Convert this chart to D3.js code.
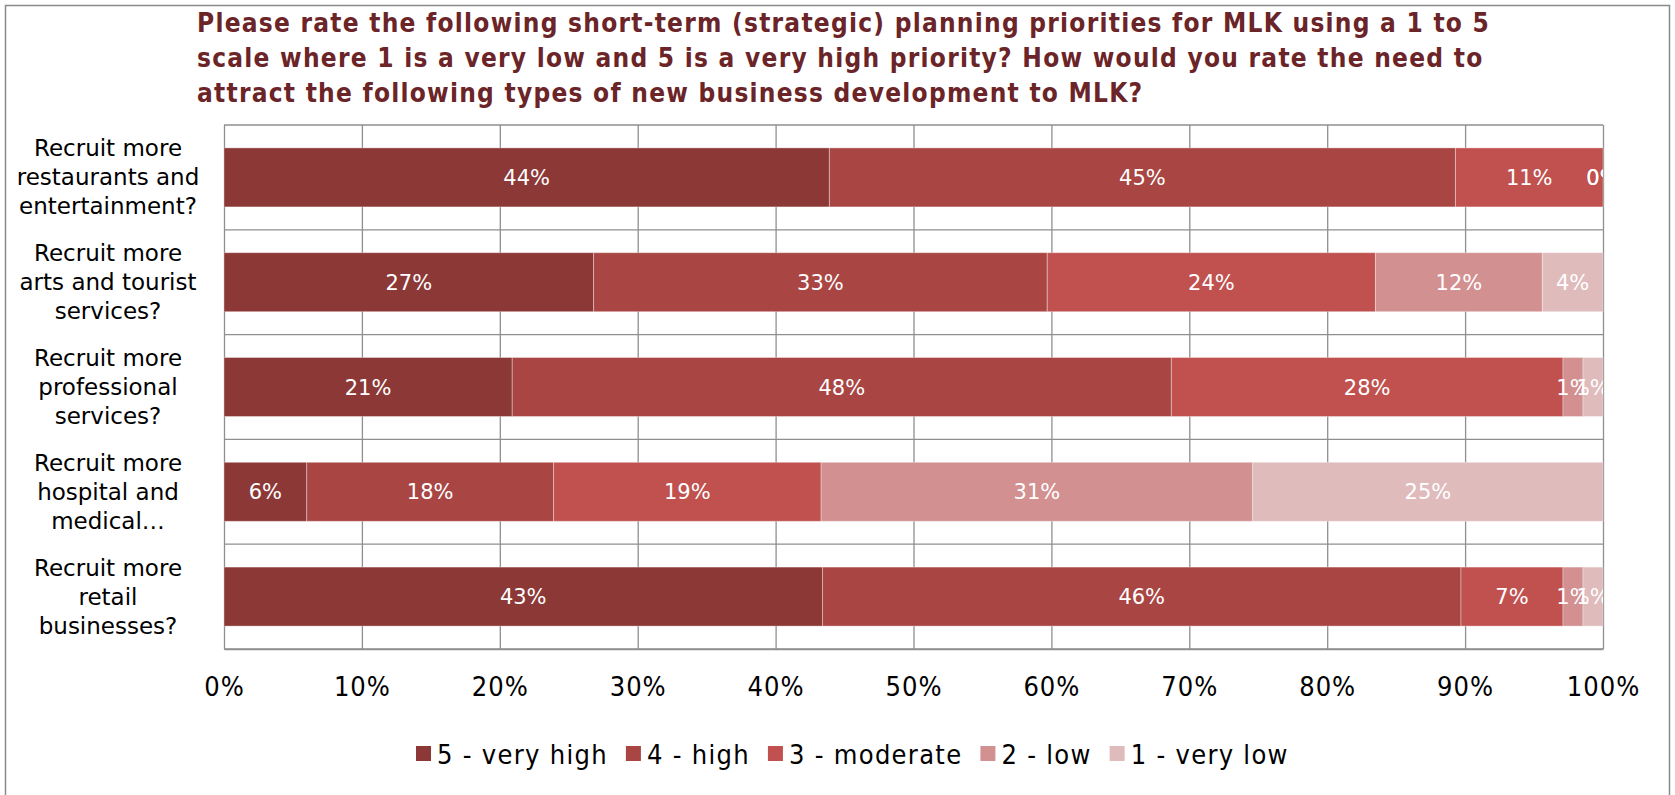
<!DOCTYPE html>
<html>
<head>
<meta charset="utf-8">
<script src="https://cdn.jsdelivr.net/npm/d3@7"></script>
<style>
  html, body { margin: 0; padding: 0; background: #fff; }
  svg { display: block; }
</style>
</head>
<body>
<svg id="chart" width="1675" height="795"></svg>
<script>
const titleLines = [
  "Please rate the following short-term (strategic) planning priorities for MLK using a 1 to 5",
  "scale where 1 is a very low and 5 is a very high priority? How would you rate the need to",
  "attract the following types of new business development to MLK?"
];
const categories = [
  ["Recruit more", "restaurants and", "entertainment?"],
  ["Recruit more", "arts and tourist", "services?"],
  ["Recruit more", "professional", "services?"],
  ["Recruit more", "hospital and", "medical…"],
  ["Recruit more", "retail", "businesses?"]
];
const seriesNames = ["5 - very high", "4 - high", "3 - moderate", "2 - low", "1 - very low"];
const seriesColors = ["#8c3836", "#a94644", "#c0514f", "#d29090", "#dfbbbc"];
const veryHigh = [43.9, 26.8, 20.9, 6.0, 43.4];
const high     = [45.4, 32.9, 47.8, 17.9, 46.3];
const moderate = [10.7, 23.8, 28.4, 19.4, 7.4];
const low      = [0.0, 12.1, 1.45, 31.3, 1.45];
const veryLow  = [0.0, 4.4, 1.45, 25.4, 1.45];
const tickValues = [0, 10, 20, 30, 40, 50, 60, 70, 80, 90, 100];

const series = [veryHigh, high, moderate, low, veryLow];
const svg = d3.select("#chart");
const condensed = "'DejaVu Sans Condensed', 'DejaVu Sans', sans-serif";

// outer frame
svg.append("rect").attr("x", 5.5).attr("y", 5.5).attr("width", 1664).attr("height", 800)
  .attr("fill", "none").attr("stroke", "#8a8a8a").attr("stroke-width", 1.5);

// title
const title = svg.append("text")
  .attr("x", 197).attr("y", 32)
  .attr("font-family", condensed)
  .attr("font-weight", "bold").attr("font-size", 26)
  .attr("letter-spacing", 1.25)
  .attr("fill", "#6b2427");
titleLines.forEach((l, i) => title.append("tspan").attr("x", 197).attr("dy", i === 0 ? 0 : 35).text(l));

const X0 = 224, X1 = 1603, Y0 = 125, Y1 = 649;
const x = d3.scaleLinear().domain([0, 100]).range([X0, X1]);
const catIdx = categories.map((d, i) => i);
const y = d3.scaleBand().domain(catIdx).range([Y0, Y1]).paddingInner(0.437).paddingOuter(0.2185);

// plot frame + horizontal separators
const grid = svg.append("g");
catIdx.concat([5]).forEach(i => {
  const yy = Y0 + i * y.step();
  grid.append("line").attr("x1", X0).attr("x2", X1).attr("y1", yy).attr("y2", yy)
    .attr("stroke", "#8f8f8f").attr("stroke-width", 1.3);
});

// axis with vertical gridlines
const axis = d3.axisBottom(x).tickValues(tickValues).tickFormat(d => d + "%")
  .tickSizeInner(-(Y1 - Y0)).tickSizeOuter(0).tickPadding(28);
const ag = svg.append("g").attr("transform", `translate(0,${Y1})`).call(axis);
ag.select(".domain").attr("stroke", "#8f8f8f").attr("stroke-width", 1.3);
ag.selectAll(".tick line").attr("stroke", "#8f8f8f").attr("stroke-width", 1.3);
ag.selectAll(".tick text")
  .attr("font-family", condensed)
  .attr("font-size", 27).attr("letter-spacing", 1).attr("fill", "#000");

// stacked data
const rows = catIdx.map(i => {
  let acc = 0;
  return series.map((s, k) => {
    const v = s[i];
    const seg = { row: i, k, x0: acc, x1: acc + v, v };
    acc += v;
    return seg;
  });
});

svg.append("defs").append("clipPath").attr("id", "plotclip")
  .append("rect").attr("x", X0).attr("y", Y0).attr("width", X1 - X0).attr("height", Y1 - Y0);

const bars = svg.append("g");
rows.forEach(r => r.forEach(seg => {
  if (seg.v <= 0) return;
  bars.append("rect")
    .attr("x", x(seg.x0)).attr("width", x(seg.x1) - x(seg.x0))
    .attr("y", y(seg.row)).attr("height", y.bandwidth())
    .attr("fill", seriesColors[seg.k])
    .attr("stroke", "rgba(255,255,255,0.35)").attr("stroke-width", 1);
}));

const labels = svg.append("g").attr("clip-path", "url(#plotclip)");
rows.forEach(r => r.forEach(seg => {
  labels.append("text")
    .attr("x", (x(seg.x0) + x(seg.x1)) / 2)
    .attr("y", y(seg.row) + y.bandwidth() / 2)
    .attr("dy", "0.36em").attr("text-anchor", "middle")
    .attr("font-family", "'DejaVu Sans', sans-serif").attr("font-size", 21)
    .attr("fill", "#fff")
    .text(Math.round(seg.v) + "%");
}));

// category labels
const catG = svg.append("g");
categories.forEach((lines, i) => {
  const cy = y(i) + y.bandwidth() / 2;
  const t = catG.append("text").attr("x", 108).attr("y", cy - 29 + 8)
    .attr("text-anchor", "middle")
    .attr("font-family", "'DejaVu Sans', sans-serif").attr("font-size", 23)
    .attr("fill", "#000");
  lines.forEach((l, j) => t.append("tspan").attr("x", 108).attr("dy", j === 0 ? 0 : 29).text(l));
});

// legend
const leg = svg.append("g");
let lx = 416;
const ly = 754;
seriesNames.forEach((n, k) => {
  leg.append("rect").attr("x", lx).attr("y", ly - 8).attr("width", 15).attr("height", 15)
    .attr("fill", seriesColors[k]);
  const t = leg.append("text").attr("x", lx + 21).attr("y", ly).attr("dy", "0.36em")
    .attr("font-family", condensed)
    .attr("font-size", 27).attr("letter-spacing", 1.3).attr("fill", "#000").text(n);
  lx += 21 + t.node().getComputedTextLength() + 18;
});
</script>
</body>
</html>
